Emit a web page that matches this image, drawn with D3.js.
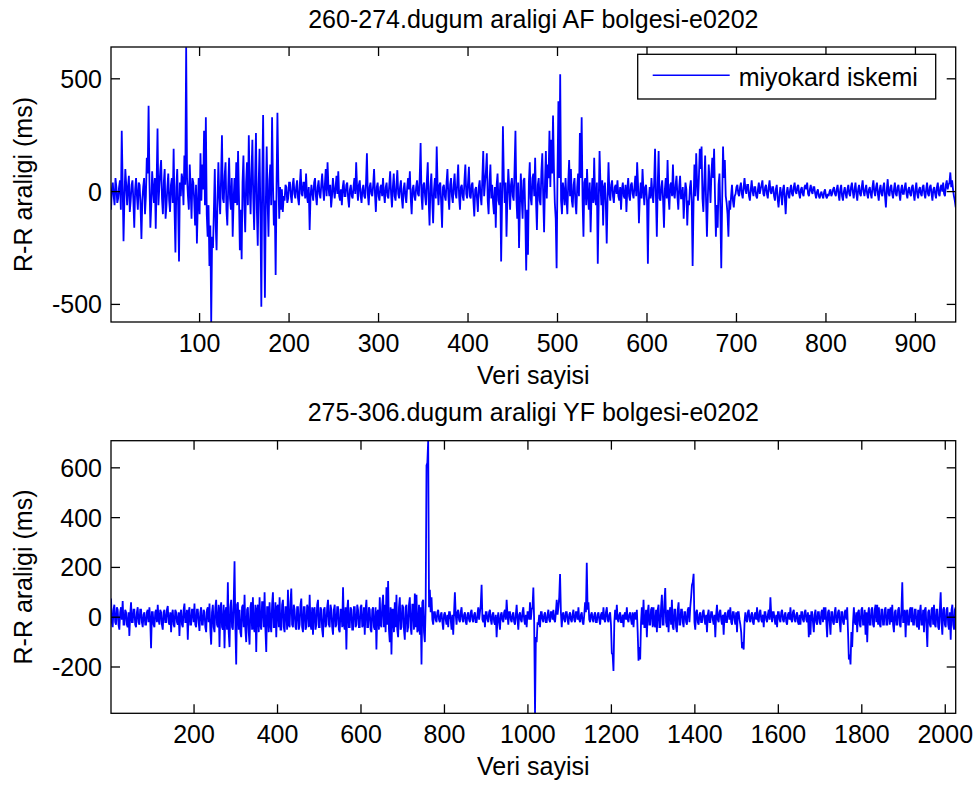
<!DOCTYPE html>
<html>
<head>
<meta charset="utf-8">
<script src="https://cdn.jsdelivr.net/npm/d3@7"></script>
<style>
  body { margin: 0; background: #fff; }
  svg { display: block; font-family: "Liberation Sans", Arial, sans-serif; }
</style>
</head>
<body>
<div id="chart"></div>
<script>
// upper panel: one value per sample, samples 1..945
const topStep = 1
const topValues = [
  -80, 10, 40, -20, -60, 60, 20, -50, -30, 20, 50, -80, 270, 40, -220, -30, 100, 30, -60, 20, 70, -90, -40, 30, 50, -40, -160, 10, 60, -20, -80, 40, 30, -60, -210, -40, 20, 60, -100, -20, 150, 80, 380, 40, -160, -60, 90, 10, -50, 60,
  -165, 40, 280, -60, 20, 90, 140, -30, -100, 40, 100, -120, -60, 20, 80, -40, -90, 30, 60, -50, 190, -80, -270, 20, 100, -60, -310, 40, -20, 80, 50, -60, 160, 30, 640, 60, -20, -80, 120, 10, -120, 60, 40, -40, -150, 30, -230, -60, 60, -100,
  170, -40, 120, 10, 270, -60, 330, -100, -200, -60, -330, -150, -578, -200, -250, -80, 100, -150, -260, -40, 130, -20, -100, 60, 250, -30, -50, 70, 130, -80, -150, 20, 150, -30, -80, 60, -200, -40, 60, -50, 130, -60, 180, -20, -260, -80, -300, 40, 160, -60,
  -180, 40, 130, -60, 250, 20, -100, 80, 230, -30, -170, 60, 260, -80, -240, 30, 190, -100, -510, 40, 340, -80, -470, -60, 200, -40, -200, 50, 120, -60, 330, 40, -150, -40, -370, 20, 350, 60, -120, 20, -80, 10, -90, -20, -40, 30, 20, -50, -30, 40,
  40, -20, -50, 30, 60, -10, -30, 20, 50, -30, -60, 30, 100, -10, -20, 40, 40, -30, 80, -20, -50, 20, -170, -20, 30, -10, -40, 40, 60, -20, -60, 20, 50, -10, -30, 30, 80, 10, -40, 30, 100, -20, 130, 20, -20, 30, -70, -20, 60, 10,
  -30, 20, 70, -10, 90, -20, -40, 10, -60, 20, 50, -20, -20, 30, 40, -30, -70, 10, 30, -20, -30, 20, 60, -10, 130, 20, -40, 30, 50, -20, -50, 10, 30, -20, -30, 40, 170, -10, -60, 20, 40, -10, -20, 30, 100, -10, -90, 20, 40, -20,
  -40, 20, 30, -20, 60, -10, -50, 20, 40, -20, -30, 30, 90, -10, -70, 20, 80, -20, -40, 30, 95, -10, -30, 20, 50, -30, -75, 10, 40, -20, -50, 20, 60, 10, 90, -30, -100, 10, 30, -20, -40, 20, 50, -10, -20, 60, 215, -20, -80, 30,
  40, -20, -60, 50, 130, -40, -150, 20, 80, -40, -140, 10, 60, -30, 200, 20, -60, 30, 40, -50, -160, 20, 30, -20, -40, 40, 100, -20, -80, 30, 60, -20, -50, 30, 80, -10, -30, 40, 120, -20, -80, 20, 30, -20, -40, 50, 120, -10, -30, 40,
  110, -20, -30, 30, 40, -40, -110, 10, 20, -30, -90, 20, 50, -20, -60, 60, 180, -20, 40, 90, 170, -40, -100, 40, 120, -30, 30, -50, -100, 20, -160, 30, 80, -40, -60, 40, -310, -50, 290, 60, -50, 40, -200, -30, 100, 20, -80, 30, 60, -20,
  -40, 100, 270, -20, -120, 40, -250, -60, 80, -30, -120, 50, 60, -100, -350, -80, -280, 40, 130, -30, -60, 60, 80, -20, 150, -40, -170, 30, 60, -40, -60, 90, 170, -20, -180, 40, 180, -30, 120, 60, 270, 20, 230, 80, 337, 100, -50, -120, -340, 80,
  400, 60, 520, -40, -100, 40, 0, -60, 60, -30, -100, 40, 140, -20, 100, -40, -70, 30, 60, -50, -100, 20, 80, -20, 260, 60, 330, -40, -200, 40, 60, -60, 100, -20, -80, 40, -180, -20, 60, -50, 150, -30, -60, 40, -320, -60, 180, 30, -60, 50,
  -150, 20, 40, -60, -230, -20, 130, -10, -40, 30, 50, -20, -50, 20, 30, -10, 50, -20, -40, 20, -80, 10, 40, -20, -30, 30, -90, 10, 60, -20, -40, 30, 40, -10, -30, 20, 70, -20, 130, 30, -140, -20, 40, -30, 100, 10, -60, 20, 30, -40,
  -320, -40, 20, -30, 60, -10, -50, 40, 190, -20, -200, 30, 180, -30, -40, 20, 50, -40, -160, 10, 60, -30, 140, -20, -80, 30, 40, -20, 120, -10, -30, 30, 70, -20, -80, 20, 70, -30, -30, 20, -120, -30, 40, 10, -150, -40, -60, 20, 50, -40,
  -330, -60, 120, -20, 170, 40, -40, 60, 190, 100, 200, -30, -90, 40, 160, -40, -200, -30, 120, 40, -50, 80, 150, 60, 190, -20, -200, -60, -160, 30, 80, -90, -340, -40, 200, 60, 140, -20, -50, -100, -200, -40, -80, -20, 30, -40, -70, -20, -10, 20,
  30, -10, -20, 20, 40, -10, -30, 20, 60, 10, -10, 30, 30, -20, -40, 10, 50, 0, -20, 20, 20, -20, -30, 10, 40, -10, 10, 30, 50, -10, -20, 20, 30, -10, -30, 20, 50, 0, -10, 20, 20, -20, -40, 10, 30, -30, -70, -20, 20, -10,
  -60, 10, 30, -30, -100, -10, 20, -10, -30, 10, 30, -10, -20, 20, 40, 0, -10, 20, 30, -10, -30, 10, 20, -10, -20, 20, 30, 10, 40, -10, -20, 10, 30, 0, -10, 20, 20, -10, -30, 0, 10, -20, -30, -10, 0, -20, -30, 0, 10, -20,
  -30, -10, -20, 0, 10, -20, -10, 10, 20, -10, -20, 10, 30, -10, -40, 10, 30, -20, -40, 0, 20, -10, -30, 10, 30, -10, -20, 20, 40, 0, -30, 10, 40, -10, -40, 10, 30, -10, -20, 20, 50, 0, -20, 10, 30, -10, -30, 10, 20, -10,
  -30, 20, 50, 0, -20, 20, 40, -10, -40, 10, 30, -10, -20, 20, 40, -20, -70, 10, 55, -10, -20, 20, 30, -10, -30, 10, 40, -10, -20, 20, 30, -10, -40, 10, 30, -10, -10, 20, 40, -10, -30, 10, 20, -10, -20, 20, 30, -10, -40, 10,
  40, -10, -30, 10, 20, -10, -20, 20, 30, -10, -30, 10, 40, -10, -20, 20, 30, -10, -40, 10, 20, -10, -30, 20, 40, -10, -20, 20, 30, 0, 40, -10, -20, 30, 50, 10, 30, 40, 85, 20, 50, 10, -20, -40, -70
]

// lower panel: one value every 2 samples, samples 1..2025
const bottomStep = 2
const bottomValues = [
  75, -20, -40, 30, 50, -20, -30, 40, 30, -30, -50, 20, 40, -10, 65, -30, -30, 30, 20, -30, -40, 20, -75, 10, 60, -20, -20, 30, 30, -30, -40, 20, 40, -20, -30, 30, 30, -20, -40, 10, 20, -30, -30, 20, 30, -20, 40, -10, -125, 20,
  20, -30, -40, 20, 30, -20, 50, -10, -30, 30, 20, -30, -50, 20, 30, -20, -20, 30, 45, -20, -30, 20, -60, 10, 30, -30, -40, 30, 20, -20, -30, 20, -75, 10, 30, -30, -40, 30, 55, -20, -20, 30, -90, 20, 40, -30, -30, 30, 30, -20,
  55, -30, -40, 30, 30, -20, -55, 20, 40, -30, -30, 30, 20, -40, -60, 30, 40, -20, 55, -50, -110, 20, 50, -40, -60, 40, 70, -30, -40, 50, -120, 30, 60, -40, -50, 50, -125, 20, 40, -50, 140, -60, -120, 40, 70, -40, -50, 60, 225, -40,
  -190, 50, 60, -50, 30, -60, -80, 40, 50, -40, 90, -50, -100, 30, 40, -60, -110, 40, 60, -50, 80, -40, -60, 50, -140, 30, 50, -60, 80, -30, -50, 60, 60, -40, 100, -50, -140, 40, 40, -60, 60, -30, -60, 50, 100, -40, -40, 60, -80, 40,
  50, -40, 80, -50, -50, 50, 70, -40, -60, 40, 40, -50, 110, -30, -40, 60, 115, -30, -40, 50, 30, -40, -50, 40, 40, -50, -30, 50, 75, -40, -60, 40, 40, -50, -40, 50, 30, -40, 90, -30, -50, 40, -70, 30, 40, -50, -30, 50, 70, -40,
  -40, 40, 30, -50, -80, 30, 40, -40, -30, 40, 70, -30, -40, 50, 30, -40, -70, 30, 50, -40, -30, 40, 40, -50, -60, 30, 30, -40, 120, -30, -50, 40, -130, 30, 70, -40, -40, 40, 30, -50, -50, 40, 40, -40, -30, 50, 30, -40, -40, 40,
  50, -40, -30, 40, -70, 30, 70, -40, -40, 40, 30, -50, -60, 30, 40, -40, -50, 40, -130, 20, 30, -50, 80, -30, -40, 50, 90, -40, 50, -60, 120, -30, 145, -50, -100, 40, -150, 30, 30, -60, 60, -40, 90, -50, -80, 40, 80, -50, -40, 50,
  40, -50, -90, 40, 50, -60, -40, 50, 80, -40, -70, 50, 50, -50, 95, -40, 90, -60, -50, 50, -70, 40, -190, 60, 70, -60, -100, 50, 610, 620, 709, 40, 110, 20, 80, -10, -30, 20, 20, -10, -20, 20, 30, -10, -20, 10, 20, -20, -50, 10,
  20, -10, -30, 10, -40, 20, 20, -10, -50, 10, -70, 20, 100, 10, -30, 20, 30, -10, -20, 20, 40, -10, -20, 10, 20, -20, -30, 10, 20, -10, -20, 20, 30, -10, -20, 10, 20, -20, -20, 10, 40, -10, 20, 50, 130, -10, -20, 10, -40, 20,
  20, -10, -20, 20, 30, -10, -30, 10, 20, -20, -30, 10, -80, -10, 20, -20, -50, 10, 20, -10, -20, 20, 30, -10, 70, 10, -30, 20, 20, -10, -20, 10, 20, -20, -30, 10, 50, -10, -50, 10, 20, -10, -20, 20, 40, -10, -30, 10, -40, 20,
  20, -10, 60, -10, 30, 40, 119, -20, -386, -80, -100, -20, -30, 10, -40, 20, 20, -10, -20, 10, 20, -20, -20, 10, 30, -10, -20, 20, 20, -10, 30, -10, -20, 20, 70, 10, 40, 80, 173, 20, -40, 10, 20, -10, -20, 20, 20, -10, -30, 10,
  20, -10, -20, 10, 30, -10, -20, 20, 20, -10, 40, -10, -20, 10, 20, -20, -30, 10, 60, 20, 219, 30, 60, -10, -20, 10, 20, -10, -20, 10, 20, -20, -20, 10, 20, -10, -30, 10, 20, -10, 40, -10, -20, 20, 40, -10, -20, 10, 20, -30,
  -145, -150, -216, -20, 30, -10, 50, -10, -20, 10, 20, -20, -20, 10, -40, 10, 20, -10, 40, -10, -20, 10, 20, -10, -30, 20, -40, 10, 20, -10, 30, -60, -175, -120, -170, -20, 40, -30, 70, -40, -40, 30, -80, 20, 50, -30, -30, 30, 40, -40,
  40, -30, -40, 30, -60, 30, 50, -40, -40, 40, 90, -30, -30, 60, 117, -20, -40, 30, -60, 20, 40, -30, 70, -40, -50, 30, 30, -40, -60, 30, 60, -30, -30, 30, 30, -20, -40, 20, 20, -20, -30, 30, 40, -20, 40, 80, 130, 140, 174, -20,
  -50, 20, 30, -20, -30, 10, 20, -20, -20, 20, 30, -10, -30, 10, -60, 10, 30, -20, -20, 20, 20, -10, -30, 10, -80, 10, 50, -10, -20, 20, 30, -10, -30, 10, -70, 10, 20, -20, -20, 20, 30, -10, 40, -20, -30, 20, 20, -10, -30, 20,
  -60, 20, 20, -10, -30, -60, -125, -100, -130, -20, 20, -10, -20, 20, 30, -10, -20, 10, 20, -20, -30, 10, 20, -10, 40, -10, -20, 20, 30, -10, -20, 10, -40, 20, 20, -10, -20, 10, 30, -10, 80, 10, -20, 20, 20, -10, -30, 10, -40, 20,
  20, -10, -20, 20, 30, -10, -20, 10, 20, -20, -30, 10, 20, -10, 40, -10, -20, 20, 30, -10, -20, 10, 20, -20, -30, 10, -30, 20, 20, -10, -20, 20, 30, -10, -20, 20, -80, 10, -70, 20, 20, -20, -60, 10, 30, -20, -30, 20, 20, -20,
  -30, 20, 30, -20, 40, -10, 40, -20, -80, 20, 30, -20, -70, 20, 20, -20, -30, 20, 40, -20, -20, 20, 30, -20, -60, 20, 20, -20, -30, 20, 30, -10, 40, -60, -170, -150, -190, -60, -120, -20, 40, -20, -30, 20, -60, 20, 30, -30, -40, 30,
  40, -30, -30, 30, -70, 20, -100, 10, 40, -30, -30, 30, 40, -30, -40, 30, 50, -20, 50, -30, 40, -30, -40, 30, 30, -30, -30, 30, 40, -30, -30, 30, 30, -30, 40, -20, 50, -30, -60, 20, 30, -30, -30, 30, 40, -30, -40, 30, 140, -20,
  -20, 30, -80, 20, 30, -30, -30, 30, 40, -20, 40, -30, -30, 30, 30, -30, -40, 30, -50, 20, 50, -30, -30, 30, -60, 30, 40, -40, -120, 20, 30, -30, -40, 30, 40, -30, 50, -30, -40, 30, 30, -40, -50, 30, 100, -20, -70, 30, 40, -30,
  -40, 30, 40, -30, -50, 20, -90, 30, 50, -30, -50, 30, 40
]

const topXTicks = [100, 200, 300, 400, 500, 600, 700, 800, 900]
const topYTicks = [-500, 0, 500]
const bottomXTicks = [200, 400, 600, 800, 1000, 1200, 1400, 1600, 1800, 2000]
const bottomYTicks = [-200, 0, 200, 400, 600]

const topTitle = "260-274.dugum araligi AF bolgesi-e0202"
const bottomTitle = "275-306.dugum araligi YF bolgesi-e0202"
const xLabel = "Veri sayisi"
const yLabel = "R-R araligi (ms)"
const legendLabel = "miyokard iskemi"

const width = 980, height = 787
const fontSize = 25
const tickLen = 9
const lineColor = "#0000ff"

let svg = d3.select("#chart").append("svg")
    .attr("width", width)
    .attr("height", height)

function drawPanel(cfg, id) {
    let box = cfg.box
    let x = d3.scaleLinear().domain(cfg.xDomain).range([box.left, box.right])
    let y = d3.scaleLinear().domain(cfg.yDomain).range([box.bottom, box.top])

    let g = svg.append("g")

    g.append("clipPath").attr("id", "clip" + id)
        .append("rect")
        .attr("x", box.left).attr("y", box.top)
        .attr("width", box.right - box.left).attr("height", box.bottom - box.top)

    let points = cfg.values.map((v, i) => [1 + i * cfg.step, v])

    g.append("path")
        .datum(points)
        .attr("clip-path", "url(#clip" + id + ")")
        .attr("fill", "none")
        .attr("stroke", lineColor)
        .attr("stroke-width", 1.8)
        .attr("stroke-linejoin", "miter")
        .attr("stroke-miterlimit", 2)
        .attr("d", d3.line().x(d => x(d[0])).y(d => y(d[1])))

    // ticks drawn inwards on all four sides (box on)
    let ticks = g.append("g").attr("stroke", "#000").attr("stroke-width", 1.3)
    cfg.xTicks.forEach(t => {
        ticks.append("line").attr("x1", x(t)).attr("x2", x(t))
            .attr("y1", box.bottom).attr("y2", box.bottom - tickLen)
        ticks.append("line").attr("x1", x(t)).attr("x2", x(t))
            .attr("y1", box.top).attr("y2", box.top + tickLen)
    })
    cfg.yTicks.forEach(t => {
        ticks.append("line").attr("x1", box.left).attr("x2", box.left + tickLen)
            .attr("y1", y(t)).attr("y2", y(t))
        ticks.append("line").attr("x1", box.right).attr("x2", box.right - tickLen)
            .attr("y1", y(t)).attr("y2", y(t))
    })

    g.append("rect")
        .attr("x", box.left).attr("y", box.top)
        .attr("width", box.right - box.left).attr("height", box.bottom - box.top)
        .attr("fill", "none")
        .attr("stroke", "#000")
        .attr("stroke-width", 1.3)

    let labels = g.append("g").attr("font-size", fontSize).attr("fill", "#000")

    labels.selectAll(".xt").data(cfg.xTicks).enter().append("text")
        .attr("x", d => x(d))
        .attr("y", box.bottom + 30)
        .attr("text-anchor", "middle")
        .text(d => d)

    labels.selectAll(".yt").data(cfg.yTicks).enter().append("text")
        .attr("x", box.left - 9)
        .attr("y", d => y(d))
        .attr("dy", "0.36em")
        .attr("text-anchor", "end")
        .text(d => d)

    let cx = (box.left + box.right) / 2
    labels.append("text")
        .attr("x", cx).attr("y", box.top - 19.5)
        .attr("text-anchor", "middle")
        .text(cfg.title)

    labels.append("text")
        .attr("x", cx).attr("y", box.bottom + 62)
        .attr("text-anchor", "middle")
        .text(xLabel)

    labels.append("text")
        .attr("transform", "translate(32," + ((box.top + box.bottom) / 2) + ") rotate(-90)")
        .attr("text-anchor", "middle")
        .text(yLabel)

    if (cfg.legend) {
        let lg = cfg.legend
        let legend = g.append("g")
        legend.append("rect")
            .attr("x", lg.x).attr("y", lg.y)
            .attr("width", lg.w).attr("height", lg.h)
            .attr("fill", "#fff")
            .attr("stroke", "#000")
            .attr("stroke-width", 1.3)
        legend.append("line")
            .attr("x1", lg.x + 15).attr("x2", lg.x + 92)
            .attr("y1", lg.y + lg.h / 2 - 1.5).attr("y2", lg.y + lg.h / 2 - 1.5)
            .attr("stroke", lineColor)
            .attr("stroke-width", 1.5)
        legend.append("text")
            .attr("x", lg.x + 101)
            .attr("y", lg.y + lg.h / 2)
            .attr("dy", "0.36em")
            .attr("font-size", fontSize)
            .attr("fill", "#000")
            .text(legendLabel)
    }
}

drawPanel({
    box: {left: 111, right: 955.7, top: 47, bottom: 322},
    xDomain: [1, 945],
    yDomain: [-578, 641],
    values: topValues,
    step: topStep,
    xTicks: topXTicks,
    yTicks: topYTicks,
    title: topTitle,
    legend: {x: 637.7, y: 54.3, w: 298, h: 44.7}
}, "top")

drawPanel({
    box: {left: 111, right: 955.7, top: 440.7, bottom: 713.3},
    xDomain: [1, 2025],
    yDomain: [-386, 709],
    values: bottomValues,
    step: bottomStep,
    xTicks: bottomXTicks,
    yTicks: bottomYTicks,
    title: bottomTitle
}, "bottom")
</script>
</body>
</html>
